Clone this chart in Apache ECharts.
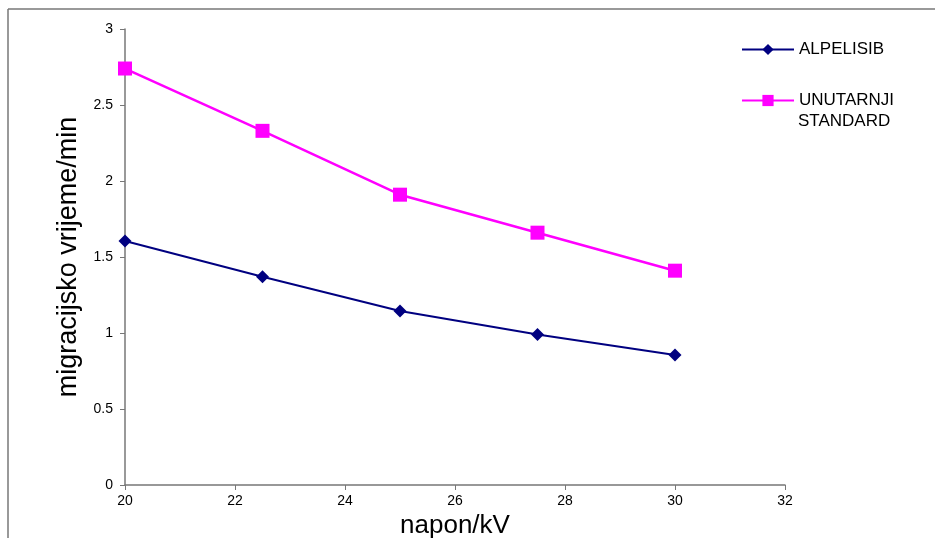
<!DOCTYPE html>
<html>
<head>
<meta charset="utf-8">
<script src="https://cdn.jsdelivr.net/npm/echarts@6/dist/echarts.min.js"></script>
<style>
  html, body { margin: 0; padding: 0; background: #fff; }
  #main { width: 935px; height: 538px; }
</style>
</head>
<body>
<div id="main"></div>
<script>
// podaci
var napon = [20, 22.5, 25, 27.5, 30];
var alpelisib = [1.605, 1.37, 1.145, 0.99, 0.855];
var unutarnji = [2.74, 2.33, 1.91, 1.66, 1.41];

function pairs(xs, ys) {
    var out = [];
    for (var i = 0; i < xs.length; i++) {
        out.push([xs[i], ys[i]]);
    }
    return out;
}

var myChart = echarts.init(document.getElementById('main'));

var axisCol = '#777';
var font = 'Liberation Sans, Arial, sans-serif';
var legText = { fontSize: 17, color: '#000', fontFamily: font };

myChart.setOption({
    animation: false,
    textStyle: { fontFamily: font },
    grid: { left: 125, right: 150, top: 29, bottom: 53, outerBoundsMode: 'none' },
    graphic: [
        { type: 'line', shape: { x1: 8, y1: 9, x2: 935, y2: 9 }, style: { stroke: '#777', lineWidth: 1.5 } },
        { type: 'line', shape: { x1: 8, y1: 9, x2: 8, y2: 538 }, style: { stroke: '#777', lineWidth: 1.5 } },
        // drugi red legende
        { type: 'text', left: 798, top: 113, style: { text: 'STANDARD', font: '17px Liberation Sans, Arial, sans-serif', fill: '#000' } }
    ],
    legend: [
        {
            left: 736,
            top: 36,
            itemWidth: 52,
            itemHeight: 14,
            textStyle: legText,
            data: ['ALPELISIB']
        },
        {
            left: 736,
            top: 87,
            itemWidth: 52,
            itemHeight: 14,
            textStyle: legText,
            data: ['UNUTARNJI STANDARD'],
            formatter: function () { return 'UNUTARNJI'; }
        }
    ],
    xAxis: {
        type: 'value',
        min: 20,
        max: 32,
        interval: 2,
        name: 'napon/kV',
        nameLocation: 'middle',
        nameGap: 25,
        nameTextStyle: { fontSize: 26, color: '#000', fontFamily: font },
        axisLine: { lineStyle: { color: axisCol, width: 1.5 } },
        axisTick: { show: true, length: 5, lineStyle: { color: axisCol } },
        axisLabel: { fontSize: 14, color: '#000', margin: 9 },
        splitLine: { show: false }
    },
    yAxis: {
        type: 'value',
        min: 0,
        max: 3,
        interval: 0.5,
        name: 'migracijsko vrijeme/min',
        nameLocation: 'middle',
        nameGap: 43,
        nameTextStyle: { fontSize: 27, color: '#000', fontFamily: font },
        axisLine: { show: true, lineStyle: { color: axisCol, width: 1.5 } },
        axisTick: { show: true, length: 5, lineStyle: { color: axisCol } },
        axisLabel: { fontSize: 14, color: '#000', margin: 12 },
        splitLine: { show: false }
    },
    series: [
        {
            name: 'ALPELISIB',
            type: 'line',
            data: pairs(napon, alpelisib),
            symbol: 'diamond',
            symbolSize: 13,
            color: '#000080',
            lineStyle: { color: '#000080', width: 2 },
            itemStyle: { color: '#000080' }
        },
        {
            name: 'UNUTARNJI STANDARD',
            type: 'line',
            data: pairs(napon, unutarnji),
            symbol: 'rect',
            symbolSize: 14,
            color: '#ff00ff',
            lineStyle: { color: '#ff00ff', width: 2.5 },
            itemStyle: { color: '#ff00ff' }
        }
    ]
});
</script>
</body>
</html>
